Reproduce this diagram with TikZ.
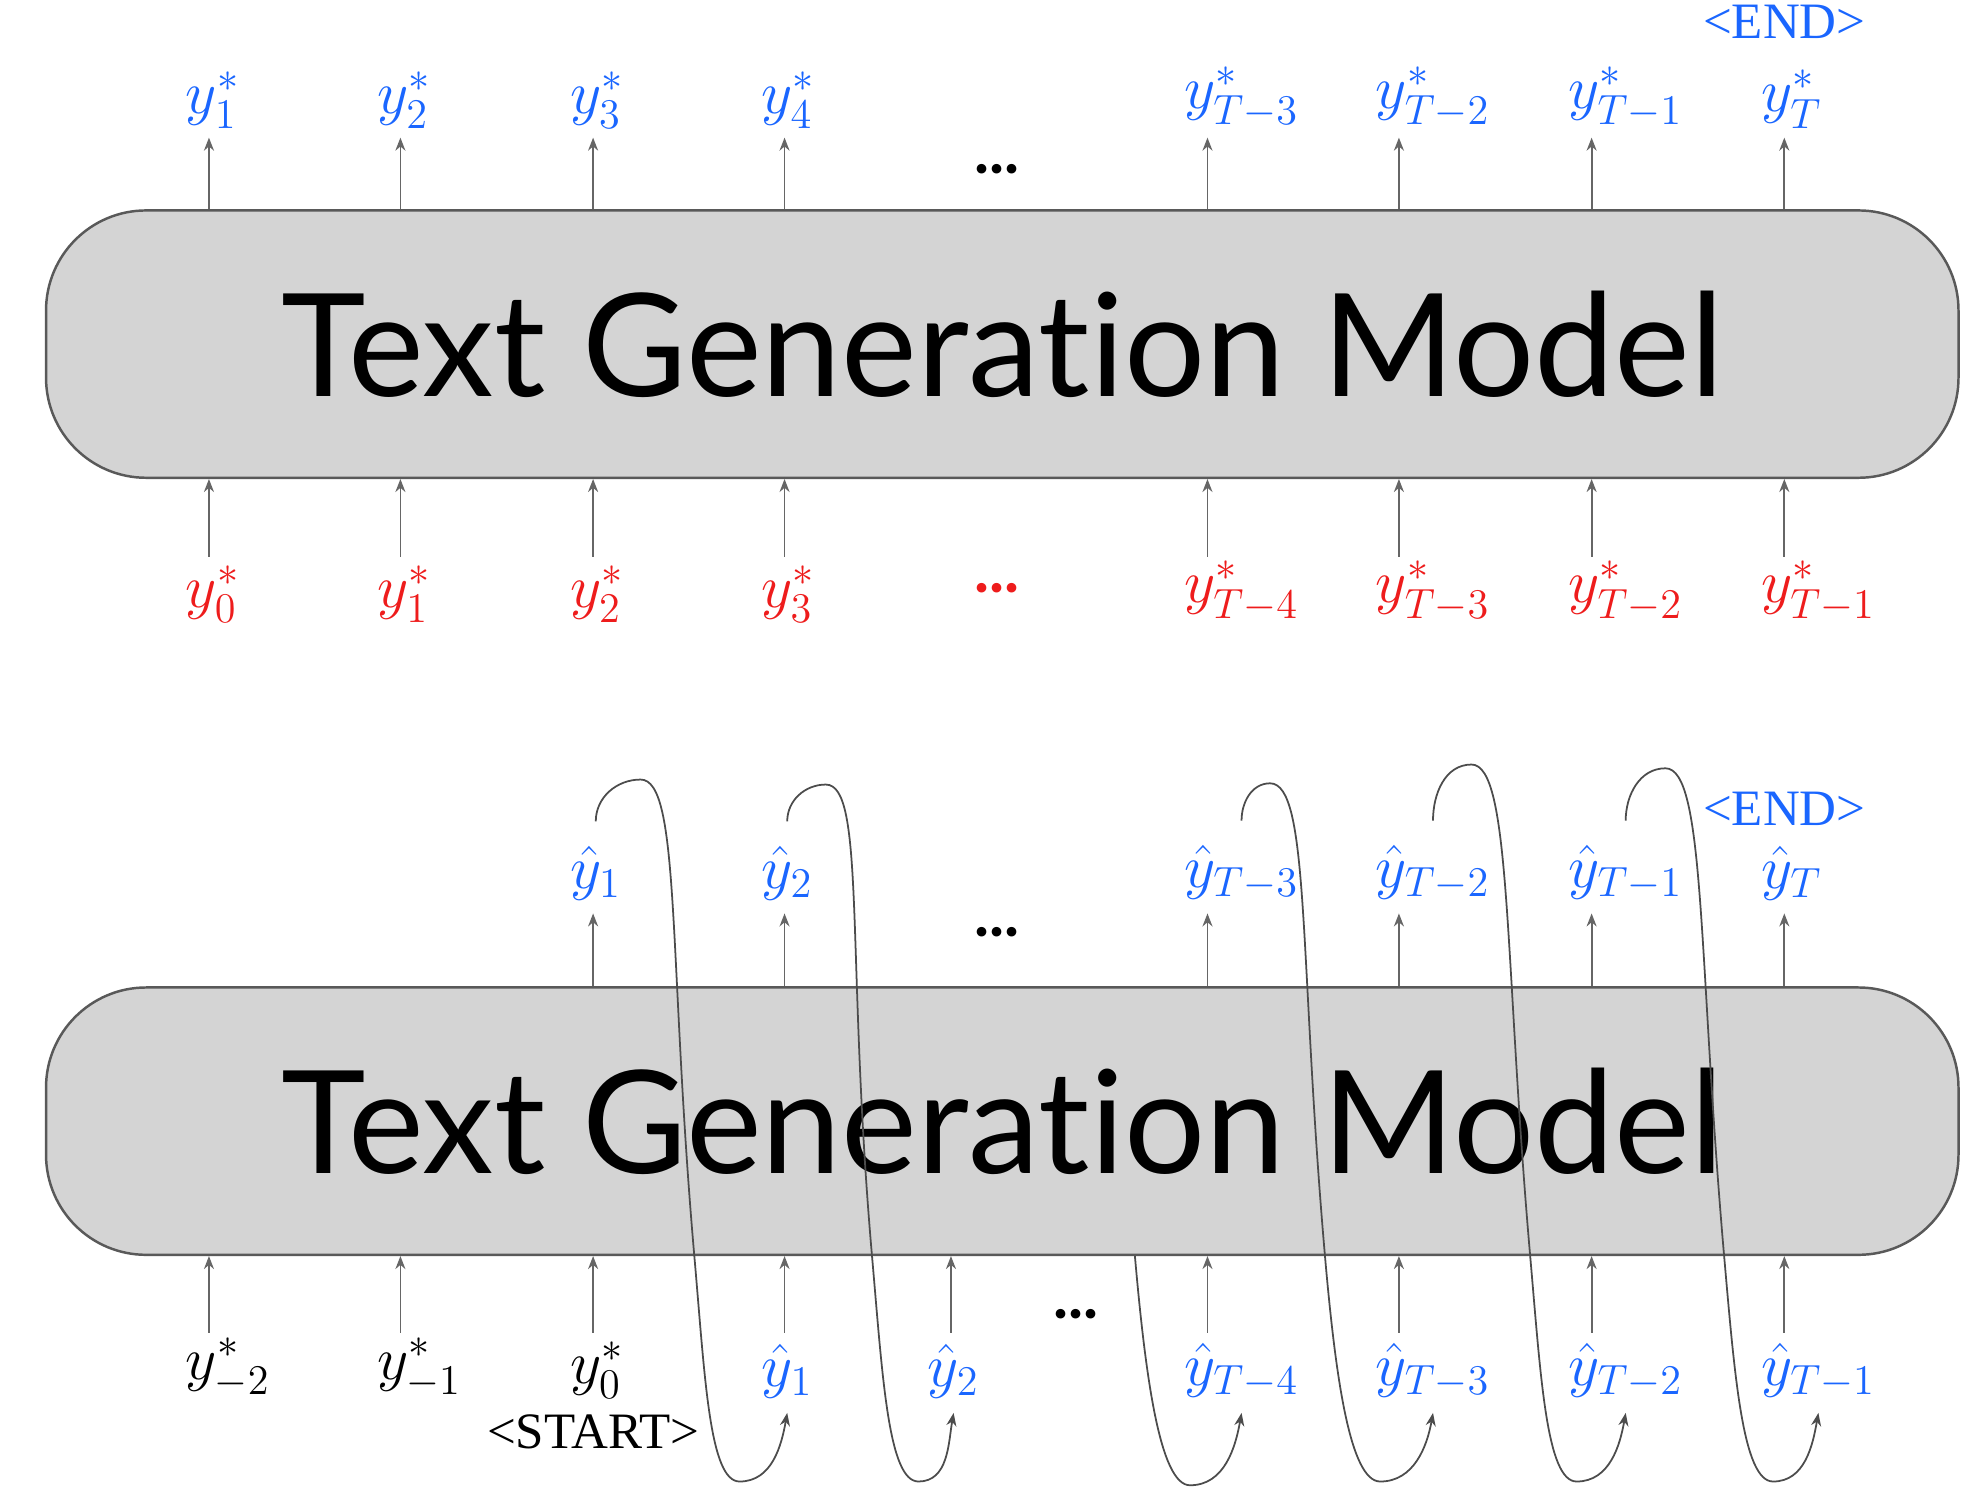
\documentclass[tikz,border=0pt]{standalone}
\usepackage{amsmath}
\usepackage{fontspec}
\newfontfamily\modelfont{Lato}[Ligatures=NoCommon]
\newfontfamily\tagfont{Liberation Serif}
\usepackage{tikz}
\usetikzlibrary{arrows.meta, positioning, calc}
\definecolor{outblue}{HTML}{1A66FF}
\definecolor{inred}{HTML}{EE1C1C}
\definecolor{boxgray}{HTML}{D4D4D4}

\begin{document}
\begin{tikzpicture}[
    x=0.0125cm, y=0.0125cm,
    model/.style={draw=black!65, line width=0.7pt, fill=boxgray, rounded corners=1cm, minimum width=19.1cm, minimum height=2.67cm, font=\modelfont\fontsize{40.7}{48}\selectfont},
    tok/.style={inner sep=0pt, anchor=south west, font=\fontsize{17}{20}\selectfont},
    tag/.style={inner sep=0pt, anchor=base, font=\tagfont\fontsize{14.5}{17}\selectfont},
    dots/.style={font=\modelfont\bfseries\fontsize{18}{20}\selectfont},
    io/.style={draw=black!60, line width=0.5pt, -{Stealth[length=1.3mm, width=1mm]}},
    fb/.style={draw=black!70, line width=0.5pt, -{Stealth[length=1.3mm, width=1mm]}}
]
\fill[white] (0,0) rectangle (1568,-1188);

\node[model] (model1) at (801,-275) {Text Generation Model};
\node[model] (model2) at (801,-896) {Text Generation Model};

\foreach \x/\t [count=\i] in {167/1, 320/2, 474/3, 627/4, 965/{T-3}, 1118/{T-2}, 1272/{T-1}, 1426/T} {
  \coordinate (a\i) at (\x,-110);
  \node[tok, text=outblue] (tgt\i) at (\x-19,-103) {$y^*_{\t}$};
  \draw[io] (a\i |- model1.north) -- (a\i);
}
\node[tag, text=outblue] (end1) at (1426,-31) {<END>};
\node[dots] (gap1) at (797,-135) {...};

\foreach \x/\t [count=\i] in {167/0, 320/1, 474/2, 627/3, 965/{T-4}, 1118/{T-3}, 1272/{T-2}, 1426/{T-1}} {
  \coordinate (b\i) at (\x,-445);
  \node[tok, text=inred] (ref\i) at (\x-19,-498) {$y^*_{\t}$};
  \draw[io] (b\i) -- (b\i |- model1.south);
}
\node[dots, text=inred] (gap2) at (797,-470) {...};

\foreach \x/\t [count=\i] in {474/1, 627/2, 965/{T-3}, 1118/{T-2}, 1272/{T-1}, 1426/T} {
  \coordinate (c\i) at (\x,-730);
  \node[tok, text=outblue] (ho\i) at (\x-19,-720) {$\hat{y}_{\t}$};
  \draw[io] (c\i |- model2.north) -- (c\i);
}
\node[tag, text=outblue] (end2) at (1426,-660) {<END>};
\node[dots] (gap3) at (797,-745) {...};

\foreach \x/\t/\c [count=\i] in {167/{y^*_{-2}}/black, 320/{y^*_{-1}}/black, 474/{y^*_0}/black, 627/{\hat{y}_1}/outblue, 760/{\hat{y}_2}/outblue, 965/{\hat{y}_{T-4}}/outblue, 1118/{\hat{y}_{T-3}}/outblue, 1272/{\hat{y}_{T-2}}/outblue, 1426/{\hat{y}_{T-1}}/outblue} {
  \coordinate (d\i) at (\x,-1065);
  \node[tok, text=\c] (hi\i) at (\x-19,-1118) {$\t$};
  \draw[io] (d\i) -- (d\i |- model2.south);
}
\node[tag] (start) at (474,-1158) {<START>};
\node[dots] (gap4) at (860,-1050) {...};

\foreach \o/\n/\px/\py/\cx/\bx in {1/4/512/623/555/591, 2/5/660/627/697/734, 3/7/1015/626/1059/1103, 4/8/1176/611/1223/1260, 5/9/1331/614/1378/1417} {
  \draw[fb] ([yshift=0.24cm]ho\o.north) to[out=90,in=180] (\px,-\py)
    to[out=0,in=95,out distance=0.4cm,in distance=3cm] (\cx,-1005)
    to[out=-85,in=180,out distance=1.2cm,in distance=0.3cm] (\bx,-1184)
    to[out=0,in=-100] ([yshift=-0.14cm]hi\n.south);
}
\draw[fb] ($(model2.south)+(106,0)$) to[out=-85,in=180,out distance=1.2cm,in distance=0.3cm] (951,-1187)
  to[out=0,in=-100] ([yshift=-0.14cm]hi6.south);
\end{tikzpicture}
\end{document}
